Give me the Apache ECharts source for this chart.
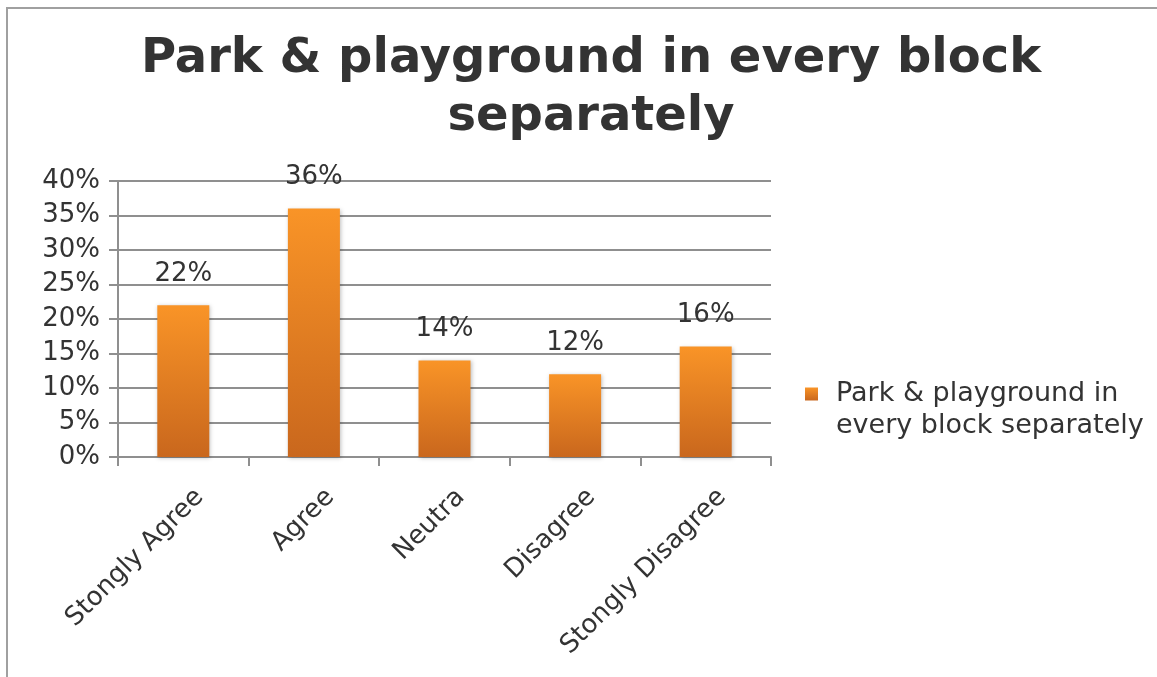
<!DOCTYPE html>
<html>
<head>
<meta charset="utf-8">
<script src="https://cdn.jsdelivr.net/npm/echarts@6/dist/echarts.min.js"></script>
<style>
html,body{margin:0;padding:0;background:#fff;}
#chart{width:1157px;height:677px;}
</style>
</head>
<body>
<div id="chart"></div>
<script>
let categories = ['Stongly Agree','Agree','Neutra','Disagree','Stongly Disagree'];
let values = [22,36,14,12,16];
let seriesName = 'Park & playground in every block separately';
let yTicks = [0,5,10,15,20,25,30,35,40];

let font = 'DejaVu Sans';
let txt = '#333333';
let gridCol = '#8f8f8f';

let chart = echarts.init(document.getElementById('chart'));
chart.setOption({
  animation:false,
  backgroundColor:'#fff',
  graphic:[{
    type:'rect',
    shape:{x:7,y:8,width:1300,height:800},
    style:{fill:'none',stroke:'#a0a0a0',lineWidth:2},
    silent:true
  }],
  title:{
    text:'Park & playground in every block\nseparately',
    left:586,
    textAlign:'center',
    top:26,
    textStyle:{
      fontFamily:font,
      fontWeight:'bold',
      fontSize:48,
      lineHeight:58,
      color:txt
    }
  },
  legend:{
    left:800,
    top:341,
    icon:'rect',
    itemWidth:13,
    itemHeight:13,
    data:[seriesName],
    // blank first line so the icon sits level with the first text line
    formatter:function(){ return ' \nPark & playground in\nevery block separately'; },
    textStyle:{
      fontFamily:font,
      fontSize:27,
      lineHeight:32,
      color:txt,
      padding:[0,0,0,13]
    }
  },
  grid:{
    left:118,
    right:386,
    top:181,
    bottom:220,
    containLabel:false
  },
  xAxis:{
    type:'category',
    data:categories,
    axisLine:{lineStyle:{color:gridCol,width:2}},
    axisTick:{show:true,length:9,lineStyle:{color:gridCol,width:2}},
    axisLabel:{
      rotate:45,
      interval:0,
      margin:20,
      lineHeight:46,
      // blank first line pushes the rotated text a bit further from the axis
      formatter:function(v){ return ' \n' + v; },
      fontFamily:font,
      fontSize:26,
      color:txt
    }
  },
  yAxis:{
    type:'value',
    min:0,
    max:40,
    interval:5,
    axisLine:{show:true,lineStyle:{color:gridCol,width:2}},
    axisTick:{show:true,length:9,lineStyle:{color:gridCol,width:2}},
    splitLine:{show:true,lineStyle:{color:gridCol,width:2}},
    axisLabel:{
      margin:18,
      fontFamily:font,
      fontSize:26,
      color:txt,
      formatter:function(v){ return yTicks.indexOf(v)>=0 ? v+'%' : ''; }
    }
  },
  series:[{
    name:seriesName,
    type:'bar',
    data:values,
    barWidth:52,
    itemStyle:{
      color:new echarts.graphic.LinearGradient(0,0,0,1,[
        {offset:0,color:'#f99427'},
        {offset:1,color:'#c9671d'}
      ]),
      shadowBlur:4,
      shadowColor:'rgba(0,0,0,0.25)',
      shadowOffsetX:1,
      shadowOffsetY:1
    },
    label:{
      show:true,
      position:'top',
      distance:18,
      formatter:'{c}%',
      fontFamily:font,
      fontSize:26,
      color:txt
    }
  }]
});
</script>
</body>
</html>
